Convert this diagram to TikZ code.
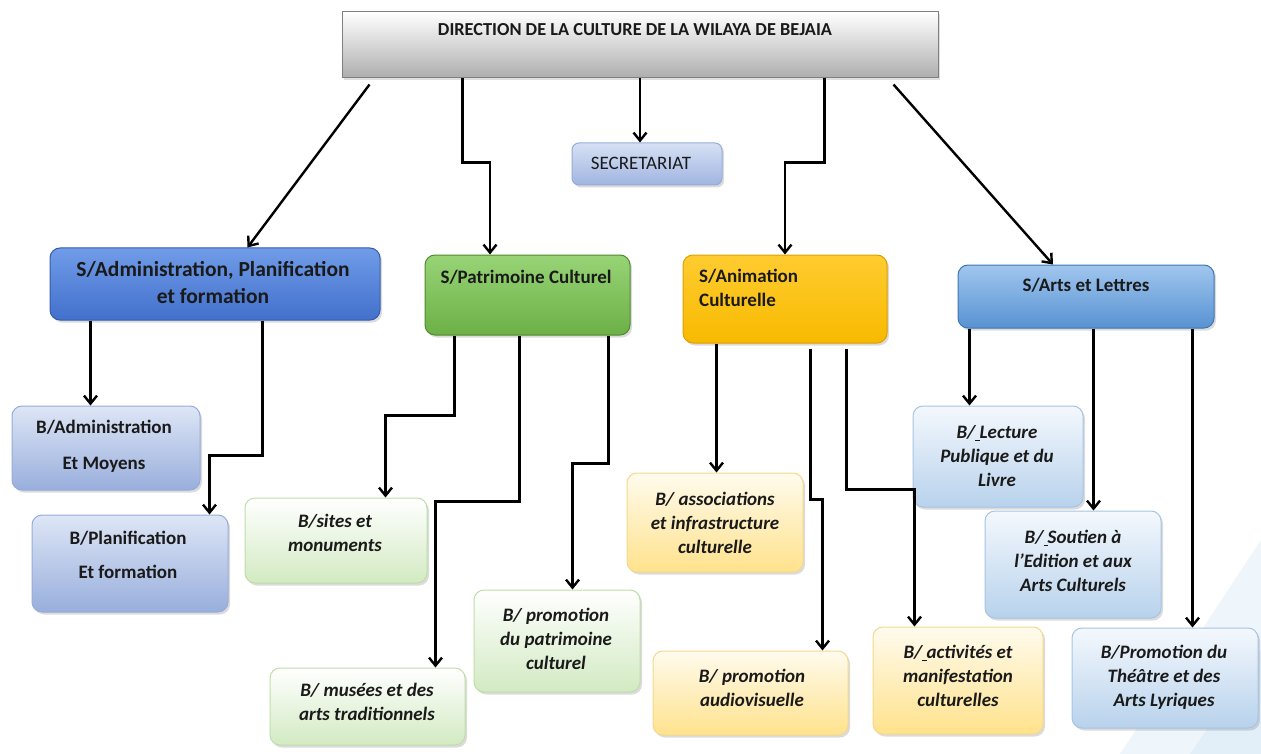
\documentclass[tikz,border=0pt]{standalone}
\usepackage{fontspec}
\setmainfont{Carlito}
\usetikzlibrary{shadows,arrows.meta}
\definecolor{txtc}{HTML}{1A1A1A}
\definecolor{wedgeA}{HTML}{EEF5FB}
\definecolor{wedgeB}{HTML}{E2EEF8}
\definecolor{secT}{RGB}{214,224,244}\definecolor{secB}{RGB}{160,181,224}\definecolor{secD}{RGB}{150,172,215}
\definecolor{admD}{RGB}{52,92,170}\definecolor{admT}{RGB}{112,156,232}\definecolor{admB}{RGB}{66,112,204}
\definecolor{patD}{RGB}{80,138,48}\definecolor{patT}{RGB}{152,212,118}\definecolor{patM}{RGB}{126,196,86}\definecolor{patB}{RGB}{108,176,70}
\definecolor{aniD}{RGB}{220,160,0}\definecolor{aniT}{RGB}{255,204,48}\definecolor{aniM}{RGB}{255,194,10}\definecolor{aniB}{RGB}{248,186,0}
\definecolor{artD}{RGB}{62,118,180}\definecolor{artT}{RGB}{160,198,238}\definecolor{artM}{RGB}{120,172,226}\definecolor{artB}{RGB}{88,146,210}
\definecolor{bbD}{RGB}{150,172,220}\definecolor{bbT}{RGB}{222,230,246}\definecolor{bbB}{RGB}{152,174,220}
\definecolor{bgD}{RGB}{190,222,168}\definecolor{bgB}{RGB}{210,234,194}
\definecolor{byD}{RGB}{244,216,140}\definecolor{byT}{RGB}{255,251,238}\definecolor{byB}{RGB}{255,226,140}
\definecolor{blD}{RGB}{166,196,228}\definecolor{blT}{RGB}{244,248,253}\definecolor{blB}{RGB}{184,210,236}
\tikzset{
  box/.style={rounded corners=10pt,draw,line width=1pt,inner sep=0pt,
    drop shadow={shadow xshift=2pt,shadow yshift=-2.5pt,opacity=.28}},
  topbox/.style={draw=black!50,line width=1pt,inner sep=0pt,top color=white,bottom color=black!32,
    drop shadow={shadow xshift=2pt,shadow yshift=-2.5pt,opacity=.25}},
  secbox/.style={box,rounded corners=7pt,draw=secD,top color=secT,bottom color=secB},
  sadmbox/.style={box,draw=admD,top color=admT,bottom color=admB},
  spatbox/.style={box,draw=patD,top color=patT,middle color=patM,bottom color=patB},
  sanibox/.style={box,draw=aniD,top color=aniT,middle color=aniM,bottom color=aniB},
  sartbox/.style={box,draw=artD,top color=artT,middle color=artM,bottom color=artB},
  bbluebox/.style={box,draw=bbD,top color=bbT,bottom color=bbB},
  bgreenbox/.style={box,draw=bgD,top color=white,bottom color=bgB},
  byellowbox/.style={box,draw=byD,top color=byT,bottom color=byB},
  blightbox/.style={box,draw=blD,top color=blT,bottom color=blB},
  lbl/.style={align=center,inner sep=0pt,text=txtc},
  stxt/.style={lbl,font=\fontsize{19}{24}\selectfont\bfseries},
  btxt/.style={lbl,font=\fontsize{19}{24}\selectfont\bfseries\itshape},
  arr/.style={draw=black,line width=2.4pt,-{Straight Barb[length=8pt,width=13pt]}}
}
\begin{document}
\begin{tikzpicture}[x=1pt,y=-1pt]
\useasboundingbox (0,0) rectangle (1261,754);
\fill[white] (0,0) rectangle (1261,754);
% faint background wedge
\fill[wedgeA] (1120,754) -- (1261,540) -- (1261,754) -- cycle;
\fill[wedgeB] (1190,754) -- (1261,650) -- (1261,754) -- cycle;

% top
\node[topbox,minimum width=596pt,minimum height=66pt] (top) at (640,45) {};
\node[lbl] (ttop) at (635,30) {\resizebox{394pt}{!}{\bfseries DIRECTION DE LA CULTURE DE LA WILAYA DE BEJAIA}};

% secretariat
\node[secbox,minimum width=150pt,minimum height=42pt] (sec) at (647,164) {};
\node[lbl,font=\fontsize{19}{22}\selectfont] (tsec) at (641,163) {SECRETARIAT};

% S level
\node[sadmbox,minimum width=330pt,minimum height=72pt] (sadm) at (215,284) {};
\node[lbl,font=\fontsize{21.5}{27}\selectfont\bfseries] (tsadm) at (213,283) {S/Administration, Planification\\et formation};

\node[spatbox,minimum width=205pt,minimum height=80pt] (spat) at (527.5,295) {};
\node[stxt] (tspat) at (526,277) {S/Patrimoine Culturel};

\node[sanibox,minimum width=204pt,minimum height=88pt] (sani) at (785,299) {};
\node[stxt,align=left,anchor=west] (tsani) at (699,288) {S/Animation\\Culturelle};

\node[sartbox,minimum width=256pt,minimum height=63pt] (sart) at (1086,296.5) {};
\node[stxt] (tsart) at (1086,285) {S/Arts et Lettres};

% B level - administration
\node[bbluebox,minimum width=188pt,minimum height=84pt] (badm) at (106,448) {};
\node[lbl,font=\fontsize{19}{36}\selectfont\bfseries] (tbadm) at (104,446) {B/Administration\\Et Moyens};
\node[bbluebox,minimum width=196pt,minimum height=97pt] (bpla) at (130,563.5) {};
\node[lbl,font=\fontsize{19}{34}\selectfont\bfseries] (tbpla) at (128,555) {B/Planification\\Et formation};

% B level - patrimoine
\node[bgreenbox,minimum width=182pt,minimum height=85pt] (bsit) at (336,540.5) {};
\node[btxt] (tbsit) at (335,533) {B/sites et\\monuments};
\node[bgreenbox,minimum width=195pt,minimum height=77pt] (bmus) at (367.5,706.5) {};
\node[btxt] (tbmus) at (367,702) {B/ musées et des\\arts traditionnels};
\node[bgreenbox,minimum width=166pt,minimum height=102pt] (bpro) at (557,641) {};
\node[btxt] (tbpro) at (556,639) {B/ promotion\\du patrimoine\\culturel};

% B level - animation
\node[byellowbox,minimum width=176pt,minimum height=99pt] (bass) at (715,522.5) {};
\node[btxt] (tbass) at (715,523) {B/ associations\\et infrastructure\\culturelle};
\node[byellowbox,minimum width=195pt,minimum height=84pt] (baud) at (750.5,693) {};
\node[btxt] (tbaud) at (752,688) {B/ promotion\\audiovisuelle};
\node[byellowbox,minimum width=170pt,minimum height=107pt] (bact) at (958,680.5) {};
\node[btxt] (tbact) at (958,676) {B/\underline{\hspace{0.22em}}activités et\\manifestation\\culturelles};

% B level - arts
\node[blightbox,minimum width=170pt,minimum height=101pt] (blec) at (998,456.5) {};
\node[btxt] (tblec) at (997,456) {B/\underline{\hspace{0.22em}}Lecture\\Publique et du\\Livre};
\node[blightbox,minimum width=176pt,minimum height=107pt] (bsou) at (1073,564.5) {};
\node[btxt] (tbsou) at (1073,561) {B/\underline{\hspace{0.22em}}Soutien à\\l'Edition et aux\\Arts Culturels};
\node[blightbox,minimum width=186pt,minimum height=100pt] (bthe) at (1165,678) {};
\node[btxt] (tbthe) at (1164,677) {B/Promotion du\\Théâtre et des\\Arts Lyriques};

% connectors from top
\draw[arr] ([xshift=28pt,yshift=-6pt]top.south west) -- ([xshift=198pt]sadm.north west);
\draw[arr] ([xshift=121pt]top.south west) -- ++(0,84) -| ([xshift=-37.5pt]spat.north);
\draw[arr] (top.south) -- ([xshift=-7pt]sec.north);
\draw[arr] ([xshift=483pt]top.south west) -- ++(0,84) -| (sani.north);
\draw[arr] ([xshift=-45pt,yshift=-6pt]top.south east) -- ([xshift=-33pt]sart.north);

% from S/Administration
\draw[arr] ([xshift=41pt]sadm.south west) -- ([xshift=79pt]badm.north west);
\draw[arr] ([xshift=213pt]sadm.south west) -- ++(0,135) -| ([xshift=178pt]bpla.north west);

% from S/Patrimoine
\draw[arr] ([xshift=30pt]spat.south west) -- ++(0,80) -| ([xshift=141pt]bsit.north west);
\draw[arr] ([xshift=95pt]spat.south west) -- ++(0,166) -| ([xshift=166pt]bmus.north west);
\draw[arr] ([xshift=184pt]spat.south west) -- ++(0,128) -| ([xshift=99pt]bpro.north west);

% from S/Animation
\draw[arr] ([xshift=34pt]sani.south west) -- ([xshift=90pt]bass.north west);
\draw[arr] ([xshift=128pt,yshift=-5pt]sani.south west) -- ++(0,151) -| ([xshift=170pt]baud.north west);
\draw[arr] ([xshift=164pt,yshift=-5pt]sani.south west) -- ++(0,141) -| ([xshift=42pt]bact.north west);

% from S/Arts
\draw[arr] ([xshift=12pt]sart.south west) -- ([xshift=57pt]blec.north west);
\draw[arr] ([xshift=136pt]sart.south west) -- ([xshift=109pt]bsou.north west);
\draw[arr] ([xshift=235pt]sart.south west) -- ([xshift=121pt]bthe.north west);
\end{tikzpicture}
\end{document}
